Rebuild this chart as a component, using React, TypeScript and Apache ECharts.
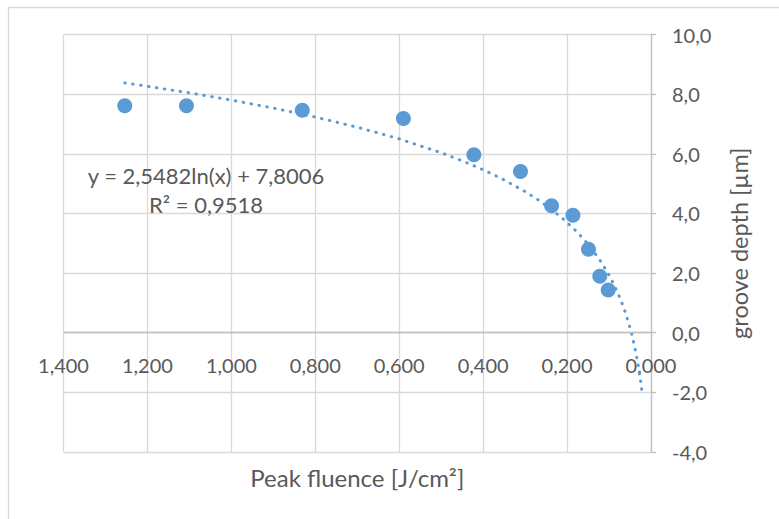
import React, { useEffect, useRef } from "react";
import * as echarts from "echarts";

const fluence = [1.254, 1.107, 0.831, 0.59, 0.422, 0.311, 0.237, 0.186, 0.149, 0.122, 0.102];
const depth = [7.61, 7.61, 7.46, 7.18, 5.97, 5.41, 4.26, 3.94, 2.8, 1.89, 1.43];
// trendline from displayed equation y = a ln(x) + b
const trendA = 2.5482;
const trendB = 7.8006;
const trendX = [1.254, 1.2, 1.1, 1.0, 0.9, 0.8, 0.7, 0.6, 0.5, 0.45, 0.4, 0.35, 0.3, 0.27, 0.24, 0.21, 0.18, 0.16, 0.14, 0.12, 0.1, 0.09, 0.08, 0.07, 0.06, 0.05, 0.045, 0.04, 0.035, 0.03, 0.026, 0.022];
const eqLine1 = "y = 2,5482ln(x) + 7,8006";
const eqLine2 = "R² = 0,9518";
const xName = "Peak fluence [J/cm²]";
const yName = "groove depth [µm]";

const FONT = "Lato";
const TXT = "#595959";

export default function App() {
  const ref = useRef<HTMLDivElement>(null);
  useEffect(() => {
    document.body.style.margin = "0";
    const chart = echarts.init(ref.current!, null, { renderer: "svg" });
    const trend = trendX.map((x) => [x, trendA * Math.log(x) + trendB]);
    chart.setOption({
      animation: false,
      backgroundColor: "#ffffff",
      textStyle: { fontFamily: FONT },
      grid: { left: 63.5, right: 128, top: 34.5, bottom: 67, containLabel: false, outerBoundsMode: "none" },
      xAxis: {
        type: "value",
        min: 0,
        max: 1.4,
        interval: 0.2,
        inverse: true,
        axisLine: { show: false, onZero: false },
        axisTick: { show: false },
        axisLabel: {
          color: TXT,
          fontSize: 20,
          fontFamily: FONT,
          inside: true,
          margin: 77,
          formatter: (v: number) => v.toFixed(3).replace(".", ","),
        },
        splitLine: { show: true, lineStyle: { color: "#d9d9d9", width: 1.3 } },
        name: xName,
        nameLocation: "middle",
        nameGap: 25,
        nameTextStyle: { color: TXT, fontSize: 24, fontFamily: FONT, verticalAlign: "middle" },
      },
      yAxis: {
        type: "value",
        position: "right",
        min: -4,
        max: 10,
        interval: 2,
        axisLine: { show: true, onZero: false, lineStyle: { color: "#bfbfbf", width: 1.3 } },
        axisTick: { show: true, length: 5, lineStyle: { color: "#bfbfbf", width: 1.3 } },
        axisLabel: {
          color: TXT,
          fontSize: 20,
          fontFamily: FONT,
          margin: 21,
          formatter: (v: number) => v.toFixed(1).replace(".", ","),
        },
        splitLine: { show: true, lineStyle: { color: "#d9d9d9", width: 1.3 } },
        name: yName,
        nameLocation: "middle",
        nameRotate: 90,
        nameGap: 76,
        nameTextStyle: { color: TXT, fontSize: 23.5, fontFamily: FONT },
      },
      series: [
        {
          type: "line",
          data: trend,
          showSymbol: false,
          symbol: "none",
          smooth: false,
          lineStyle: { color: "#5b9bd5", width: 3, type: [0.5, 7.5], cap: "round" },
          z: 3,
          markLine: {
            silent: true,
            symbol: "none",
            label: { show: false },
            lineStyle: { color: "#bfbfbf", width: 1.3, type: "solid" },
            data: [{ yAxis: 0 }],
          },
        },
        {
          type: "scatter",
          data: fluence.map((x, i) => [x, depth[i]]),
          symbol: "circle",
          symbolSize: 15,
          itemStyle: { color: "#5b9bd5", opacity: 1 },
          z: 4,
        },
      ],
      graphic: [
        {
          type: "rect",
          left: 6,
          top: 5,
          shape: { width: 800, height: 600 },
          style: { fill: "none", stroke: "#d9d9d9", lineWidth: 1.3 },
          silent: true,
          z: -1,
        },
        {
          type: "text",
          x: 206,
          y: 175,
          style: { text: eqLine1, fill: TXT, fontSize: 22, fontFamily: FONT, textAlign: "center", textVerticalAlign: "middle" },
          z: 10,
        },
        {
          type: "text",
          x: 206,
          y: 204,
          style: { text: eqLine2, fill: TXT, fontSize: 22, fontFamily: FONT, textAlign: "center", textVerticalAlign: "middle" },
          z: 10,
        },
      ],
    });
    return () => chart.dispose();
  }, []);
  return <div ref={ref} style={{ position: "fixed", left: 0, top: 0, width: 779, height: 519 }} />;
}
